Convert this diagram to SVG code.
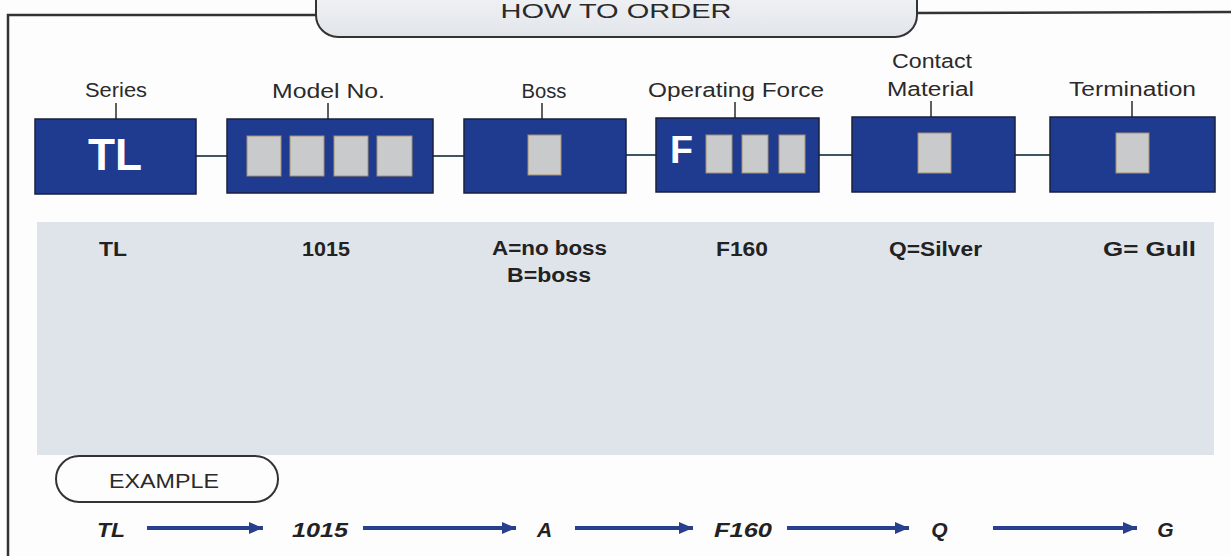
<svg xmlns="http://www.w3.org/2000/svg" width="1231" height="556" viewBox="0 0 1231 556">
<defs>
<linearGradient id="pillG" x1="0" y1="0" x2="0" y2="1">
<stop offset="0" stop-color="#f6f7f9"/>
<stop offset="1" stop-color="#e1e5ea"/>
</linearGradient>
<marker id="ah" markerWidth="14" markerHeight="12" refX="14" refY="6" orient="auto" markerUnits="userSpaceOnUse">
<path d="M0,0 L14,6 L0,12 Z" fill="#273f8e"/>
</marker>
<style>
.box{fill:#1f3b8f;stroke:#1a1f3d;stroke-width:1.5}
.sq{fill:#c9cacc;stroke:#a8906e;stroke-width:1}
.lbl{font-family:"Liberation Sans",Arial,sans-serif;font-size:20px;fill:#2a2a2a;text-anchor:middle}
.tick{stroke:#2a2a2a;stroke-width:1.5}
.val{font-family:"Liberation Sans",Arial,sans-serif;font-size:20px;font-weight:bold;fill:#222;text-anchor:middle}
.ex{font-family:"Liberation Sans",Arial,sans-serif;font-size:21px;font-weight:bold;font-style:italic;fill:#222;text-anchor:middle}
.big{font-family:"Liberation Sans",Arial,sans-serif;font-weight:bold;fill:#ffffff}
.con{stroke:#3f5560;stroke-width:2;fill:none}
.arr{stroke:#273f8e;stroke-width:4;fill:none;marker-end:url(#ah)}
.frame{stroke:#333;stroke-width:2.5;fill:none}
</style>
</defs>
<rect width="1231" height="556" fill="#fdfdfd"/>

<g id="frame">
<path class="frame" d="M8,556 L8,15 L320,15"/>
<path class="frame" d="M914,13 L1231,12"/>
</g>

<g id="title">
<rect x="316" y="-22" width="601" height="59" rx="22" fill="url(#pillG)" stroke="#333" stroke-width="2"/>
<text x="616" y="18" class="lbl" font-size="22" textLength="231" lengthAdjust="spacingAndGlyphs">HOW TO ORDER</text>
</g>

<g id="panel">
<rect x="37" y="222" width="1177" height="233" fill="#dfe4ea"/>
</g>

<g id="connectors">
<line class="con" x1="196" y1="156" x2="227" y2="156"/>
<line class="con" x1="433" y1="156" x2="464" y2="156"/>
<line class="con" x1="626" y1="155" x2="656" y2="155"/>
<line class="con" x1="819" y1="155" x2="852" y2="155"/>
<line class="con" x1="1015" y1="155" x2="1050" y2="155"/>
<line class="arr" x1="147" y1="528" x2="263" y2="528"/>
<line class="arr" x1="363" y1="528" x2="516" y2="528"/>
<line class="arr" x1="575" y1="528" x2="693" y2="528"/>
<line class="arr" x1="787" y1="528" x2="909" y2="528"/>
<line class="arr" x1="993" y1="528" x2="1137" y2="528"/>
</g>

<g id="series">
<text x="116" y="97" class="lbl" textLength="62" lengthAdjust="spacingAndGlyphs">Series</text>
<line class="tick" x1="116" y1="103" x2="116" y2="119"/>
<rect class="box" x="35" y="119" width="161" height="75"/>
<text x="88" y="170" class="big" font-size="45" textLength="54" lengthAdjust="spacingAndGlyphs">TL</text>
<text x="113" y="256" class="val" textLength="28" lengthAdjust="spacingAndGlyphs">TL</text>
</g>

<g id="model">
<text x="328.5" y="98" class="lbl" textLength="113" lengthAdjust="spacingAndGlyphs">Model No.</text>
<line class="tick" x1="328" y1="103" x2="328" y2="119"/>
<rect class="box" x="227" y="119" width="206" height="74"/>
<rect class="sq" x="247" y="136" width="34" height="40"/>
<rect class="sq" x="290" y="136" width="34" height="40"/>
<rect class="sq" x="334" y="136" width="34" height="40"/>
<rect class="sq" x="377" y="136" width="35" height="40"/>
<text x="326" y="256" class="val" textLength="48" lengthAdjust="spacingAndGlyphs">1015</text>
</g>

<g id="boss">
<text x="544" y="98" class="lbl" textLength="45" lengthAdjust="spacingAndGlyphs">Boss</text>
<line class="tick" x1="542" y1="103" x2="542" y2="119"/>
<rect class="box" x="464" y="119" width="162" height="74"/>
<rect class="sq" x="528" y="135" width="33" height="40"/>
<text x="549.5" y="255" class="val" textLength="115" lengthAdjust="spacingAndGlyphs">A=no boss</text>
<text x="549" y="282" class="val" textLength="84" lengthAdjust="spacingAndGlyphs">B=boss</text>
</g>

<g id="force">
<text x="736" y="97" class="lbl" textLength="176" lengthAdjust="spacingAndGlyphs">Operating Force</text>
<line class="tick" x1="735" y1="102" x2="735" y2="118"/>
<rect class="box" x="656" y="118" width="163" height="74"/>
<text x="670" y="163" class="big" font-size="39" textLength="23" lengthAdjust="spacingAndGlyphs">F</text>
<rect class="sq" x="706" y="135" width="26" height="38"/>
<rect class="sq" x="742" y="135" width="26" height="38"/>
<rect class="sq" x="779" y="135" width="26" height="38"/>
<text x="742" y="256" class="val" textLength="52" lengthAdjust="spacingAndGlyphs">F160</text>
</g>

<g id="contact">
<text x="932" y="68" class="lbl" textLength="80" lengthAdjust="spacingAndGlyphs">Contact</text>
<text x="930.5" y="96" class="lbl" textLength="87" lengthAdjust="spacingAndGlyphs">Material</text>
<line class="tick" x1="931" y1="101" x2="931" y2="117"/>
<rect class="box" x="852" y="117" width="163" height="75"/>
<rect class="sq" x="918" y="133" width="33" height="40"/>
<text x="935.5" y="256" class="val" textLength="93" lengthAdjust="spacingAndGlyphs">Q=Silver</text>
</g>

<g id="termination">
<text x="1132.5" y="96" class="lbl" textLength="127" lengthAdjust="spacingAndGlyphs">Termination</text>
<line class="tick" x1="1132" y1="101" x2="1132" y2="117"/>
<rect class="box" x="1050" y="117" width="165" height="75"/>
<rect class="sq" x="1116" y="133" width="33" height="40"/>
<text x="1149.5" y="256" class="val" textLength="93" lengthAdjust="spacingAndGlyphs">G= Gull</text>
</g>

<g id="example">
<rect x="56" y="456" width="222" height="46" rx="23" fill="#fdfdfd" stroke="#333" stroke-width="2"/>
<text x="164" y="488" class="lbl" font-size="22" textLength="110" lengthAdjust="spacingAndGlyphs">EXAMPLE</text>
<text x="111" y="537" class="ex" textLength="28" lengthAdjust="spacingAndGlyphs">TL</text>
<text x="320" y="537" class="ex" textLength="56" lengthAdjust="spacingAndGlyphs">1015</text>
<text x="544.5" y="537" class="ex">A</text>
<text x="743" y="537" class="ex" textLength="58" lengthAdjust="spacingAndGlyphs">F160</text>
<text x="939.5" y="537" class="ex">Q</text>
<text x="1165.5" y="537" class="ex">G</text>
</g>
</svg>
